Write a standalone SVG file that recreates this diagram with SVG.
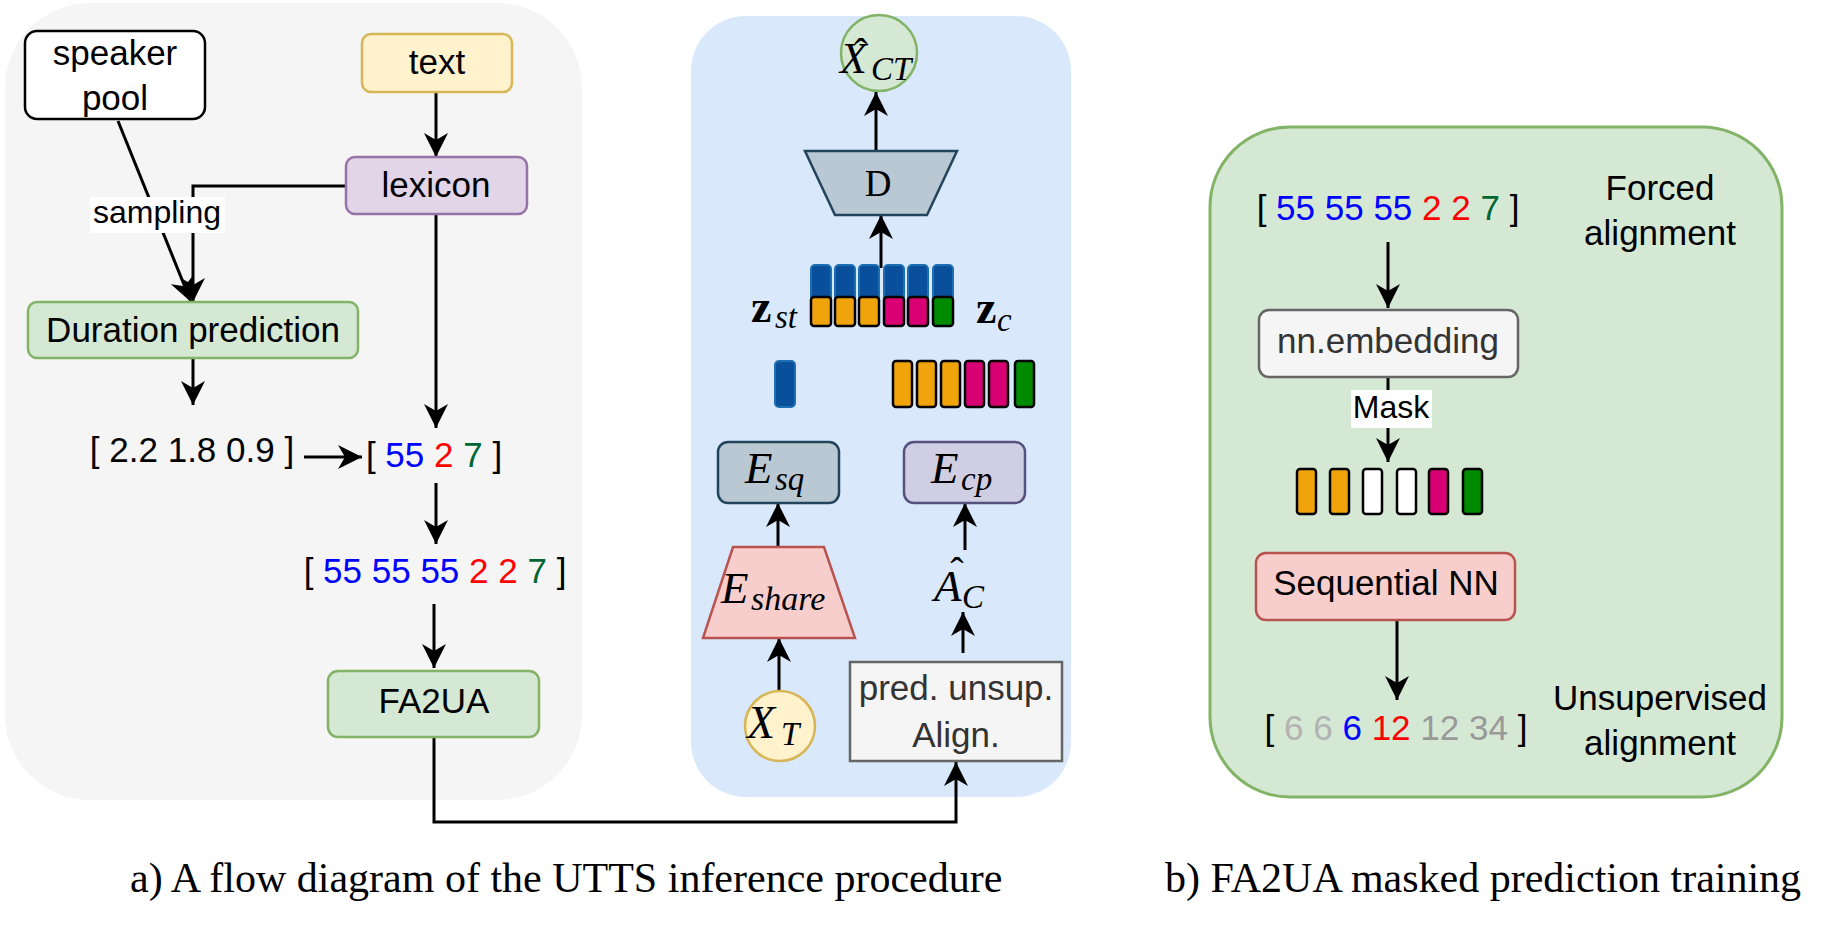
<svg xmlns="http://www.w3.org/2000/svg" width="1825" height="937" viewBox="0 0 1825 937">
<defs>
<marker id="ah" markerUnits="userSpaceOnUse" markerWidth="26" markerHeight="26" viewBox="0 0 26 26" refX="24" refY="13" orient="auto"><path d="M24,13 L0,1 L7,13 L0,25 Z" fill="#000"/></marker>
<style>
.t{font-family:"Liberation Sans",Arial,sans-serif;font-size:35px;fill:#000;text-anchor:middle}
.lab{font-family:"Liberation Sans",Arial,sans-serif;font-size:32px;fill:#000;text-anchor:middle}
.dk{fill:#333333}
.m{font-family:"Liberation Serif","Times New Roman",serif;font-style:italic;fill:#000}
.mu{font-family:"Liberation Serif","Times New Roman",serif;fill:#000}
.cap{font-family:"Liberation Serif","Times New Roman",serif;font-size:42px;fill:#000}
.ca{fill:none;stroke:#000;stroke-width:3;marker-end:url(#ah)}
.bl{fill:#0000ff}.rd{fill:#ff0000}.gr{fill:#006633}.g1{fill:#b3b3b3}.g2{fill:#999999}
.or{fill:#f0a30a;stroke:#000;stroke-width:2.5}
.mg{fill:#d80073;stroke:#000;stroke-width:2.5}
.gn{fill:#008a00;stroke:#000;stroke-width:2.5}
.wh{fill:#ffffff;stroke:#000;stroke-width:2.5}
.bu{fill:#0a4f9c;stroke:#1d6fb3;stroke-width:2}
</style>
</defs>
<rect width="1825" height="937" fill="#ffffff"/>
<g id="panel-a"><rect x="5" y="3" width="577" height="797" rx="85" fill="#f5f5f5"/></g>
<g id="panel-a2"><rect x="691" y="16" width="380" height="781" rx="55" fill="#dae8fc"/></g>
<g id="panel-b"><rect x="1210" y="127" width="572" height="670" rx="80" fill="#d5e8d4" stroke="#82b366" stroke-width="3"/></g>

<g id="connectors">
<path class="ca" d="M436,92 L436,157"/>
<path class="ca" d="M346,186 L193,186 L193,302"/>
<path class="ca" d="M118,121 L191,302"/>
<path class="ca" d="M193,358 L193,405"/>
<path class="ca" d="M436,214 L436,428"/>
<path class="ca" d="M304,457 L362,457"/>
<path class="ca" d="M436,483 L436,544"/>
<path class="ca" d="M434,604 L434,668"/>
<path class="ca" d="M434,737 L434,822 L956,822 L956,762"/>
<path class="ca" d="M779,692 L779,638"/>
<path class="ca" d="M778,547 L778,503"/>
<path class="ca" d="M963,653 L963,612"/>
<path class="ca" d="M965,550 L965,503"/>
<path class="ca" d="M881,268 L881,215"/>
<path class="ca" d="M876,151 L876,92"/>
<path class="ca" d="M1388,242 L1388,308"/>
<path class="ca" d="M1388,377 L1388,462"/>
<path class="ca" d="M1397,620 L1397,700"/>
</g>

<g id="speaker-pool"><rect x="25" y="31" width="180" height="88" rx="12" fill="#fff" stroke="#000" stroke-width="2.5"/>
<text class="t" x="115" y="65">speaker</text><text class="t" x="115" y="110">pool</text></g>
<g id="text-node"><rect x="362" y="34" width="150" height="58" rx="9" fill="#fff2cc" stroke="#d6b656" stroke-width="2.5"/><text class="t" x="437" y="74">text</text></g>
<g id="lexicon"><rect x="346" y="157" width="181" height="57" rx="9" fill="#e1d5e7" stroke="#9673a6" stroke-width="2.5"/><text class="t" x="436" y="197">lexicon</text></g>
<g id="sampling-label"><rect x="90" y="197" width="135" height="36" fill="#fff"/><text class="lab" x="157" y="223">sampling</text></g>
<g id="duration"><rect x="28" y="302" width="330" height="56" rx="9" fill="#d5e8d4" stroke="#82b366" stroke-width="2.5"/><text class="t" x="193" y="342">Duration prediction</text></g>
<g id="durations"><text class="t" x="192" y="462">[ 2.2 1.8 0.9 ]</text></g>
<g id="phones"><text class="t" x="434" y="467">[ <tspan class="bl">55</tspan> <tspan class="rd">2</tspan> <tspan class="gr">7</tspan> ]</text></g>
<g id="expanded"><text class="t" x="435" y="583">[ <tspan class="bl">55 55 55</tspan> <tspan class="rd">2 2</tspan> <tspan class="gr">7</tspan> ]</text></g>
<g id="fa2ua"><rect x="328" y="671" width="211" height="66" rx="10" fill="#d5e8d4" stroke="#82b366" stroke-width="2.5"/><text class="t" x="434" y="713">FA2UA</text></g>

<g id="xhat"><circle cx="879" cy="53" r="38" fill="#d5e8d4" stroke="#82b366" stroke-width="2.5"/>
<text class="mu" x="861" y="66" font-size="40" text-anchor="middle">ˆ</text>
<text class="m" x="840" y="73" font-size="44">X</text><text class="m" x="871" y="80" font-size="33">CT</text></g>
<g id="decoder"><path d="M805,151 L957,151 L927,215 L835,215 Z" fill="#bac8d3" stroke="#23445d" stroke-width="2.5"/><text class="mu" x="878" y="196" font-size="37" text-anchor="middle">D</text></g>
<g id="zst-stack">
<rect class="bu" x="811" y="265" width="20" height="36" rx="4"/><rect class="bu" x="835" y="265" width="20" height="36" rx="4"/><rect class="bu" x="859" y="265" width="20" height="36" rx="4"/><rect class="bu" x="884" y="265" width="20" height="36" rx="4"/><rect class="bu" x="908" y="265" width="20" height="36" rx="4"/><rect class="bu" x="933" y="265" width="20" height="36" rx="4"/>
<rect class="or" x="811" y="297" width="20" height="29" rx="3"/><rect class="or" x="835" y="297" width="20" height="29" rx="3"/><rect class="or" x="859" y="297" width="20" height="29" rx="3"/><rect class="mg" x="884" y="297" width="20" height="29" rx="3"/><rect class="mg" x="908" y="297" width="20" height="29" rx="3"/><rect class="gn" x="933" y="297" width="20" height="29" rx="3"/>
</g>
<g id="zst-label"><text class="mu" x="751" y="322" font-size="46" font-weight="bold">z</text><text class="m" x="775" y="328" font-size="33">st</text></g>
<g id="zc-label"><text class="mu" x="976" y="323" font-size="46" font-weight="bold">z</text><text class="m" x="997" y="331" font-size="33">c</text></g>
<g id="zs-bar"><rect class="bu" x="775" y="361" width="20" height="46" rx="4"/></g>
<g id="zc-bars">
<rect class="or" x="893" y="361" width="19" height="46" rx="3"/><rect class="or" x="917" y="361" width="19" height="46" rx="3"/><rect class="or" x="941" y="361" width="19" height="46" rx="3"/><rect class="mg" x="965" y="361" width="19" height="46" rx="3"/><rect class="mg" x="989" y="361" width="19" height="46" rx="3"/><rect class="gn" x="1015" y="361" width="19" height="46" rx="3"/>
</g>
<g id="esq"><rect x="718" y="442" width="121" height="61" rx="10" fill="#bac8d3" stroke="#23445d" stroke-width="2.5"/><text class="m" x="745" y="483" font-size="45">E</text><text class="m" x="775" y="490" font-size="33">sq</text></g>
<g id="ecp"><rect x="904" y="442" width="121" height="61" rx="10" fill="#d0cee2" stroke="#56517e" stroke-width="2.5"/><text class="m" x="931" y="483" font-size="45">E</text><text class="m" x="961" y="490" font-size="33">cp</text></g>
<g id="eshare"><path d="M733,547 L824,547 L855,638 L703,638 Z" fill="#f8cecc" stroke="#b85450" stroke-width="2.5"/><text class="m" x="721" y="603" font-size="45">E</text><text class="m" x="751" y="610" font-size="34">share</text></g>
<g id="ahat"><text class="mu" x="957" y="585" font-size="40" text-anchor="middle">ˆ</text><text class="m" x="934" y="601" font-size="45">A</text><text class="m" x="962" y="608" font-size="33">C</text></g>
<g id="xt"><circle cx="780" cy="726" r="35" fill="#fff2cc" stroke="#d6b656" stroke-width="2.5"/><text class="m" x="747" y="738" font-size="46">X</text><text class="m" x="781" y="745" font-size="33">T</text></g>
<g id="align"><rect x="850" y="662" width="212" height="99" fill="#f5f5f5" stroke="#666666" stroke-width="2.5"/><text class="t dk" x="956" y="700">pred. unsup.</text><text class="t dk" x="956" y="747">Align.</text></g>

<g id="fa-seq"><text class="t" x="1388" y="220">[ <tspan class="bl">55 55 55</tspan> <tspan class="rd">2 2</tspan> <tspan class="gr">7</tspan> ]</text></g>
<g id="forced-label"><text class="t" x="1660" y="200">Forced</text><text class="t" x="1660" y="245">alignment</text></g>
<g id="nnemb"><rect x="1259" y="310" width="259" height="67" rx="10" fill="#f5f5f5" stroke="#666666" stroke-width="2.5"/><text class="t dk" x="1388" y="353">nn.embedding</text></g>
<g id="mask-label"><rect x="1351" y="390" width="81" height="38" fill="#fff"/><text class="lab" x="1391" y="418">Mask</text></g>
<g id="masked-bars">
<rect class="or" x="1297" y="469" width="19" height="45" rx="3"/><rect class="or" x="1330" y="469" width="19" height="45" rx="3"/><rect class="wh" x="1363" y="469" width="19" height="45" rx="3"/><rect class="wh" x="1397" y="469" width="19" height="45" rx="3"/><rect class="mg" x="1429" y="469" width="19" height="45" rx="3"/><rect class="gn" x="1463" y="469" width="19" height="45" rx="3"/>
</g>
<g id="seqnn"><rect x="1256" y="553" width="259" height="67" rx="10" fill="#f8cecc" stroke="#b85450" stroke-width="2.5"/><text class="t" x="1386" y="595">Sequential NN</text></g>
<g id="ua-seq"><text class="t" x="1396" y="740">[ <tspan class="g1">6 6</tspan> <tspan class="bl">6</tspan> <tspan class="rd">12</tspan> <tspan class="g2">12 34</tspan> ]</text></g>
<g id="ua-label"><text class="t" x="1660" y="710">Unsupervised</text><text class="t" x="1660" y="755">alignment</text></g>

<g id="captions"><text class="cap" x="130" y="892">a) A flow diagram of the UTTS inference procedure</text><text class="cap" x="1165" y="892">b) FA2UA masked prediction training</text></g>
</svg>
